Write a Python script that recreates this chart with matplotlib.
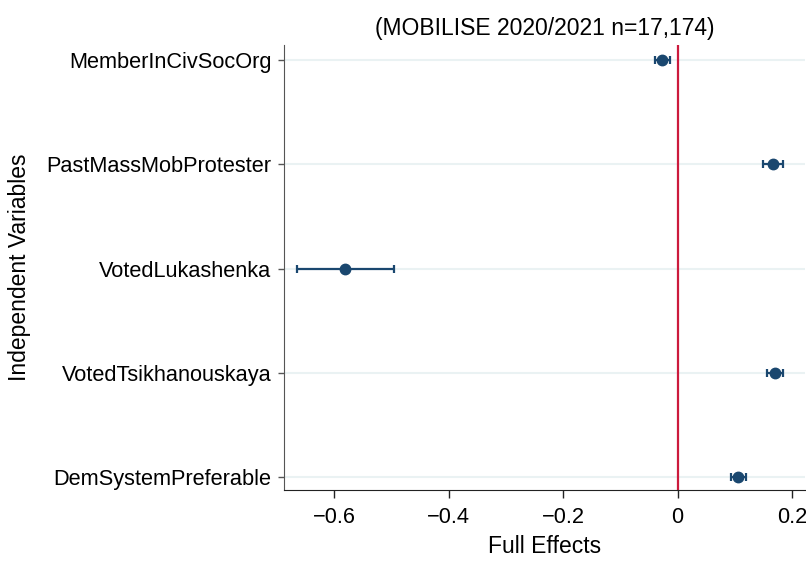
import matplotlib
matplotlib.use("Agg")
import matplotlib.pyplot as plt
import numpy as np

plt.rcParams['font.family'] = ['Liberation Sans', 'DejaVu Sans']

variables = ["MemberInCivSocOrg", "PastMassMobProtester", "VotedLukashenka",
             "VotedTsikhanouskaya", "DemSystemPreferable"]
estimates = [-0.028, 0.166, -0.581, 0.170, 0.105]
ci_low = [-0.040, 0.149, -0.665, 0.156, 0.093]
ci_high = [-0.014, 0.184, -0.495, 0.184, 0.119]
xticks = [-0.6, -0.4, -0.2, 0, 0.2]
xticklabels = ["\u22120.6", "\u22120.4", "\u22120.2", "0", "0.2"]

navy = "#1a476f"
fig = plt.figure(figsize=(8.06, 5.62), dpi=100)
ax = fig.add_axes([0.3524, 0.128, 0.646, 0.792])

ypos = np.arange(len(variables))[::-1] + 1
est = np.array(estimates)
err = np.vstack([est - np.array(ci_low), np.array(ci_high) - est])

for y in ypos:
    ax.axhline(y, color="#eaf2f3", lw=1.5, zorder=0)
ax.axvline(0, color="#cc1a3c", lw=1.6, zorder=1)
ax.errorbar(est, ypos, xerr=err, fmt="o", color=navy, ms=7.5, lw=1.6,
            capsize=3, capthick=1.6, zorder=3)

ax.set_xlim(-0.6875, 0.222)
ax.set_ylim(0.875, 5.144)
ax.set_yticks(ypos)
ax.set_yticklabels(variables, fontsize=15.7)
ax.set_xticks(xticks)
ax.set_xticklabels(xticklabels, fontsize=15.7)
ax.set_xlabel("Full Effects", fontsize=16.5, labelpad=5)
ax.set_ylabel("Independent Variables", fontsize=16.5, labelpad=11)
ax.set_title("(MOBILISE 2020/2021 n=17,174)", fontsize=16.5, pad=7)

for side in ["top", "right"]:
    ax.spines[side].set_visible(False)
ax.spines["left"].set_color("#555555")
ax.spines["bottom"].set_color("#222222")
ax.tick_params(axis="x", length=6, width=1, colors="#222222", labelcolor="black", pad=6)
ax.tick_params(axis="y", length=4, width=1, colors="#555555", labelcolor="black", pad=5)

fig.savefig("out.png", dpi=100)
